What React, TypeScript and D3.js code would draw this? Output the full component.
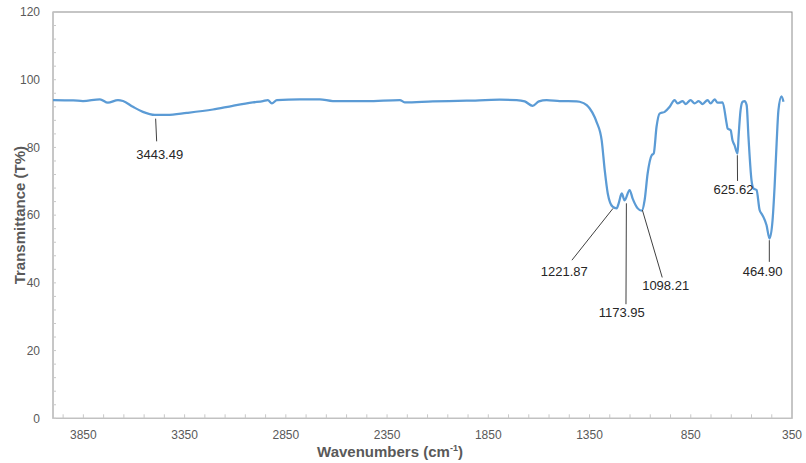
import React from "react";
import * as d3 from "d3";

const wavenumbers = [
  4000, 3900, 3852, 3768, 3729, 3679, 3654, 3605, 3556, 3497, 3437, 3339, 3210, 3112, 3013, 2963,
  2939, 2919, 2894, 2781, 2682, 2618, 2450, 2287, 2263, 2124, 1957, 1794, 1710, 1670, 1631, 1600,
  1562, 1497, 1414, 1399, 1364, 1349, 1325, 1315, 1290, 1275, 1260, 1236, 1216, 1206, 1191, 1177,
  1152, 1137, 1112, 1092, 1078, 1063, 1043, 1033, 1019, 1004, 979, 954, 930, 915, 890, 875, 851,
  831, 811, 792, 767, 752, 732, 718, 693, 673, 668, 653, 644, 634, 619, 614, 604, 594, 584, 574,
  565, 550, 540, 525, 510, 496, 476, 461, 446, 436, 426, 417, 402, 392,
];
const transmittance = [
  94.0, 93.9, 93.7, 94.2, 93.2, 94.0, 93.7, 92.0, 90.5, 89.6, 89.6, 90.2, 91.2, 92.3, 93.3, 93.7,
  94.0, 93.0, 94.0, 94.2, 94.2, 93.7, 93.7, 94.0, 93.3, 93.6, 93.8, 94.1, 94.0, 93.6, 92.3, 93.6,
  94.0, 93.7, 93.6, 93.5, 92.5, 91.5, 89.0, 87.5, 82.1, 73.3, 66.4, 62.5, 62.0, 63.5, 66.4, 64.4,
  67.4, 64.9, 62.0, 61.3, 64.4, 72.3, 77.7, 78.2, 86.1, 90.0, 90.5, 92.0, 94.0, 93.0, 93.7, 92.8, 94.0,
  93.0, 93.7, 92.8, 94.0, 93.0, 94.2, 93.2, 93.3, 87.1, 85.6, 85.1, 82.1, 80.7, 78.2, 83.1, 91.0, 93.5, 93.7, 92.5,
  83.1, 70.3, 67.9, 67.4, 61.5, 60.0, 57.1, 53.1, 58.5, 68.4, 81.2, 91.0, 95.1, 93.5,
];

const xTickLabels = [3850, 3350, 2850, 2350, 1850, 1350, 850, 350];
const yTickLabels = [0, 20, 40, 60, 80, 100, 120];

// annotation: text, anchor (w,t), leader end (w,t), label position (w,t)
const peakLabels = ["3443.49", "1221.87", "1173.95", "1098.21", "625.62", "464.90"];
const peakAnchorW = [3493, 1234, 1168, 1089, 620, 462];
const peakAnchorT = [88.5, 62.0, 63.5, 61.5, 77.7, 52.6];
const leaderEndW = [3488, 1437, 1170, 991, 619, 462];
const leaderEndT = [81.8, 46.7, 33.7, 41.6, 70.1, 46.2];
const labelW = [3473, 1475, 1191, 974, 639, 495];
const labelT = [76.7, 42.0, 29.9, 37.9, 66.2, 42.0];

const W = 806;
const H = 463;
const left = 53;
const right = 792;
const top = 12;
const bottom = 418.3;

export default function App() {
  const x = d3.scaleLinear().domain([4000, 350]).range([left, right]);
  const y = d3.scaleLinear().domain([0, 120]).range([bottom, top]);

  const pts: [number, number][] = wavenumbers.map((w, i) => [w, transmittance[i]]);
  const line = d3
    .line<[number, number]>()
    .x((d) => x(d[0]))
    .y((d) => y(d[1]))
    .curve(d3.curveMonotoneX);

  const xMinor = d3.range(3950, 349, -100);
  const yMinor = d3.range(0, 121, 4);
  const font = "'Liberation Sans', Arial, sans-serif";

  return (
    <div style={{ position: "absolute", left: 0, top: 0 }}>
      <svg width={W} height={H} style={{ display: "block", background: "#fff" }}>
        <rect x={left} y={top} width={right - left} height={bottom - top} fill="none" stroke="#8c8c8c" strokeWidth={1} />
        <line x1={left} x2={left} y1={top} y2={bottom} stroke="#c8c8c8" strokeWidth={1} />
        <line x1={left} x2={right} y1={bottom} y2={bottom} stroke="#c8c8c8" strokeWidth={1} />
        {xMinor.map((t) => (
          <line key={"xt" + t} x1={x(t)} x2={x(t)} y1={bottom} y2={bottom - 4} stroke="#c8c8c8" strokeWidth={1} />
        ))}
        {yMinor.map((t) => (
          <line key={"yt" + t} x1={left} x2={left + 3} y1={y(t)} y2={y(t)} stroke="#c8c8c8" strokeWidth={1} />
        ))}
        {xTickLabels.map((t) => (
          <text key={"xl" + t} x={x(t)} y={439} textAnchor="middle" fontFamily={font} fontSize={12} fill="#595959">
            {t}
          </text>
        ))}
        {yTickLabels.map((t) => (
          <text key={"yl" + t} x={40} y={y(t) + 4.3} textAnchor="end" fontFamily={font} fontSize={12} fill="#595959">
            {t}
          </text>
        ))}
        <path d={line(pts) || ""} fill="none" stroke="#5B9BD5" strokeWidth={2.25} strokeLinejoin="round" />
        {peakLabels.map((lab, i) => (
          <g key={"pk" + i}>
            <line
              x1={x(peakAnchorW[i])}
              y1={y(peakAnchorT[i])}
              x2={x(leaderEndW[i])}
              y2={y(leaderEndT[i])}
              stroke="#404040"
              strokeWidth={1}
            />
            <text x={x(labelW[i])} y={y(labelT[i])} textAnchor="middle" fontFamily={font} fontSize={13} fill="#262626">
              {lab}
            </text>
          </g>
        ))}
        <text x={390} y={457} textAnchor="middle" fontFamily={font} fontSize={15} fontWeight="bold" fill="#595959">
          Wavenumbers (cm
          <tspan fontSize={9} dy={-6}>-1</tspan>
          <tspan dy={6}>)</tspan>
        </text>
        <text
          transform={`translate(25,${(top + bottom) / 2}) rotate(-90)`}
          textAnchor="middle"
          fontFamily={font}
          fontSize={15}
          fontWeight="bold"
          fill="#595959"
        >
          Transmittance (T%)
        </text>
      </svg>
    </div>
  );
}
